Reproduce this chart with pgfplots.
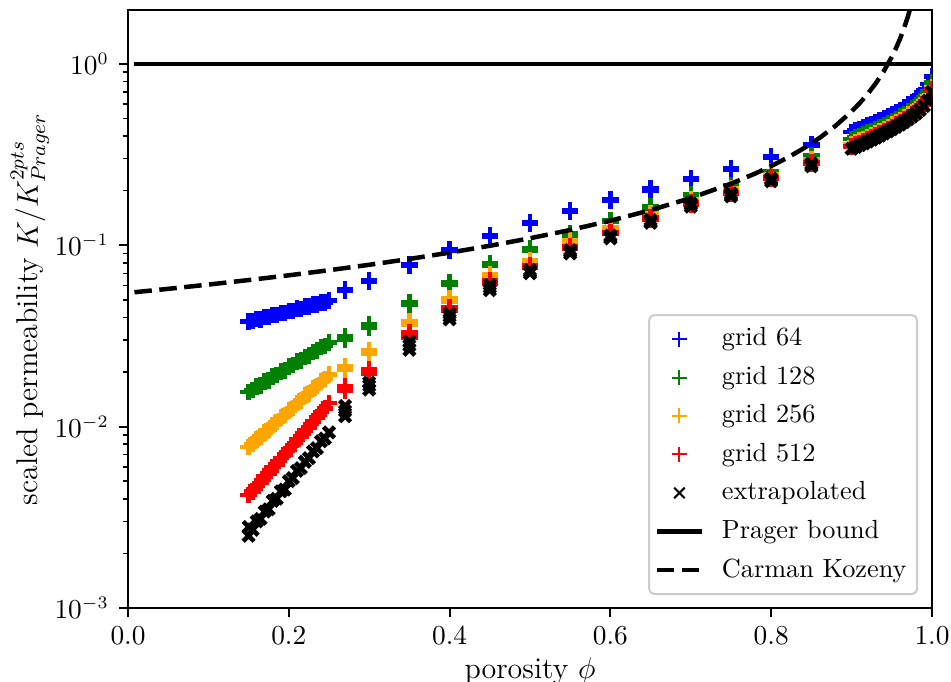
\documentclass[border=0pt]{standalone}
\usepackage{pgfplots}
\pgfplotsset{compat=1.18}
\definecolor{mplgreen}{rgb}{0,0.5,0}
\definecolor{mplorange}{rgb}{1,0.647,0}
\pgfplotsset{
  markleg/.style={legend image code/.code={\path[draw=none,fill=none] (0pt,0pt) -- (24pt,0pt);\draw[##1, line width=0.8pt, mark size=3pt] plot coordinates {(9pt,0pt)};}},
  lineleg/.style={legend image code/.code={\path[draw=none,fill=none] (0pt,0pt) -- (24pt,0pt);\draw[##1] (0pt,0pt) -- (18pt,0pt);}},
}
\begin{document}
\fontsize{12}{14.4}\selectfont
\begin{tikzpicture}
\begin{axis}[
  scale only axis, width=321.6pt, height=239.2pt,
  xmin=0, xmax=1, ymode=log, ymin=1e-3, ymax=1.98,
  xtick={0,0.2,0.4,0.6,0.8,1}, ytick={1e-3,1e-2,1e-1,1},
  xticklabel style={/pgf/number format/.cd, fixed, fixed zerofill, precision=1},
  tick label style={font=\fontsize{10.5}{12.6}\selectfont},
  label style={font=\fontsize{12}{14.4}\selectfont},
  tick align=outside, tick pos=left,
  major tick length=3.5pt, minor tick length=2pt,
  every major tick/.append style={line width=0.8pt, black},
  every minor tick/.append style={line width=0.6pt, black},
  axis line style={line width=0.8pt},
  xlabel={porosity $\phi$},
  xlabel style={yshift=3pt},
  ylabel={scaled permeability $K/K^{2pts}_{Prager}$},
  ylabel style={at={(axis description cs:-0.122,0.5)}, anchor=center},
  clip marker paths=true,
  legend cell align=left,
  legend style={at={(1,0)}, anchor=south east, xshift=-5.6pt, yshift=5.2pt,
    font=\fontsize{10.5}{12.6}\selectfont,
    draw=black!20, line width=0.8pt, rounded corners=2pt, fill=white, fill opacity=0.8, text opacity=1,
    row sep=2.3pt, inner xsep=2.2pt, inner ysep=3pt},
]
\coordinate (sw) at (rel axis cs:0,0);
\addplot[blue, only marks, mark=+, mark size=3.3pt, line width=1.8pt, markleg] table {
0.150 0.0380
0.155 0.0382
0.160 0.0391
0.165 0.0390
0.170 0.0401
0.175 0.0403
0.180 0.0412
0.185 0.0413
0.190 0.0424
0.195 0.0424
0.200 0.0435
0.205 0.0434
0.210 0.0447
0.215 0.0446
0.220 0.0459
0.225 0.0458
0.230 0.0471
0.235 0.0470
0.240 0.0484
0.245 0.0482
0.250 0.0495
0.270 0.0560
0.270 0.0572
0.300 0.0628
0.300 0.0645
0.350 0.0770
0.350 0.0786
0.400 0.0935
0.400 0.0950
0.450 0.112
0.450 0.114
0.500 0.131
0.500 0.134
0.550 0.153
0.550 0.156
0.600 0.176
0.600 0.180
0.650 0.200
0.650 0.205
0.700 0.229
0.700 0.233
0.750 0.262
0.750 0.267
0.800 0.304
0.800 0.309
0.850 0.354
0.850 0.360
0.900 0.420
0.905 0.428
0.910 0.438
0.915 0.446
0.920 0.456
0.925 0.465
0.930 0.476
0.935 0.487
0.940 0.500
0.945 0.514
0.950 0.528
0.955 0.542
0.960 0.558
0.965 0.575
0.970 0.595
0.975 0.617
0.980 0.642
0.985 0.675
0.990 0.715
0.995 0.775
1.000 0.850
};
\addlegendentry{grid 64}
\addplot[mplgreen, only marks, mark=+, mark size=3.3pt, line width=1.8pt, markleg] table {
0.150 0.0155
0.155 0.0159
0.160 0.0166
0.165 0.0169
0.170 0.0177
0.175 0.0180
0.180 0.0189
0.185 0.0192
0.190 0.0201
0.195 0.0204
0.200 0.0214
0.205 0.0218
0.210 0.0228
0.215 0.0232
0.220 0.0242
0.225 0.0247
0.230 0.0258
0.235 0.0262
0.240 0.0274
0.245 0.0279
0.250 0.0291
0.270 0.0303
0.270 0.0313
0.300 0.0352
0.300 0.0366
0.350 0.0470
0.350 0.0485
0.400 0.0605
0.400 0.0625
0.450 0.0775
0.450 0.0800
0.500 0.0935
0.500 0.0960
0.550 0.113
0.550 0.117
0.600 0.134
0.600 0.138
0.650 0.157
0.650 0.163
0.700 0.186
0.700 0.192
0.750 0.208
0.750 0.214
0.800 0.250
0.800 0.256
0.850 0.305
0.850 0.312
0.900 0.385
0.905 0.392
0.910 0.400
0.915 0.408
0.920 0.417
0.925 0.426
0.930 0.436
0.935 0.447
0.940 0.458
0.945 0.470
0.950 0.483
0.955 0.497
0.960 0.512
0.965 0.528
0.970 0.546
0.975 0.566
0.980 0.590
0.985 0.618
0.990 0.655
0.995 0.710
1.000 0.790
};
\addlegendentry{grid 128}
\addplot[mplorange, only marks, mark=+, mark size=3.3pt, line width=1.8pt, markleg] table {
0.150 0.0077
0.155 0.0080
0.160 0.0085
0.165 0.0088
0.170 0.0093
0.175 0.0096
0.180 0.0102
0.185 0.0106
0.190 0.0112
0.195 0.0116
0.200 0.0123
0.205 0.0127
0.210 0.0135
0.215 0.0139
0.220 0.0148
0.225 0.0152
0.230 0.0162
0.235 0.0167
0.240 0.0177
0.245 0.0183
0.250 0.0194
0.270 0.0205
0.270 0.0215
0.300 0.0252
0.300 0.0264
0.350 0.0365
0.350 0.0380
0.400 0.0490
0.400 0.0510
0.450 0.0660
0.450 0.0690
0.500 0.0800
0.500 0.0830
0.550 0.102
0.550 0.106
0.600 0.121
0.600 0.125
0.650 0.145
0.650 0.150
0.700 0.175
0.700 0.180
0.750 0.200
0.750 0.205
0.800 0.240
0.800 0.245
0.850 0.292
0.850 0.298
0.900 0.360
0.905 0.369
0.910 0.377
0.915 0.386
0.920 0.395
0.925 0.405
0.930 0.416
0.935 0.426
0.940 0.438
0.945 0.449
0.950 0.462
0.955 0.476
0.960 0.491
0.965 0.507
0.970 0.524
0.975 0.543
0.980 0.564
0.985 0.589
0.990 0.620
0.995 0.663
1.000 0.742
};
\addlegendentry{grid 256}
\addplot[red, only marks, mark=+, mark size=3.3pt, line width=1.8pt, markleg] table {
0.150 0.0042
0.155 0.0044
0.160 0.0047
0.165 0.0049
0.170 0.0053
0.175 0.0055
0.180 0.0060
0.185 0.0062
0.190 0.0067
0.195 0.0070
0.200 0.0075
0.205 0.0079
0.210 0.0085
0.215 0.0088
0.220 0.0095
0.225 0.0099
0.230 0.0107
0.235 0.0112
0.240 0.0120
0.245 0.0126
0.250 0.0135
0.270 0.0158
0.270 0.0167
0.300 0.0195
0.300 0.0206
0.350 0.0310
0.350 0.0330
0.400 0.0435
0.400 0.0455
0.450 0.0610
0.450 0.0640
0.500 0.0750
0.500 0.0780
0.550 0.096
0.550 0.099
0.600 0.115
0.600 0.118
0.650 0.139
0.650 0.143
0.700 0.168
0.700 0.173
0.750 0.192
0.750 0.197
0.800 0.232
0.800 0.237
0.850 0.281
0.850 0.287
0.900 0.350
0.905 0.358
0.910 0.367
0.915 0.375
0.920 0.384
0.925 0.393
0.930 0.404
0.935 0.414
0.940 0.425
0.945 0.437
0.950 0.449
0.955 0.462
0.960 0.477
0.965 0.492
0.970 0.509
0.975 0.527
0.980 0.548
0.985 0.573
0.990 0.603
0.995 0.644
1.000 0.721
};
\addlegendentry{grid 512}
\addplot[black, only marks, mark=x, mark size=3.1pt, line width=1.8pt, markleg] table {
0.150 0.0025
0.150 0.0028
0.155 0.0027
0.160 0.0030
0.165 0.0031
0.170 0.0034
0.175 0.0035
0.180 0.0039
0.185 0.0040
0.190 0.0044
0.195 0.0045
0.200 0.0050
0.205 0.0052
0.210 0.0057
0.215 0.0059
0.220 0.0064
0.225 0.0067
0.230 0.0073
0.235 0.0076
0.240 0.0083
0.245 0.0086
0.250 0.0093
0.270 0.0114
0.270 0.0122
0.270 0.0130
0.300 0.0160
0.300 0.0168
0.300 0.0175
0.350 0.0265
0.350 0.0280
0.350 0.0295
0.400 0.0390
0.400 0.0405
0.400 0.0420
0.450 0.0565
0.450 0.0585
0.450 0.0605
0.500 0.0700
0.500 0.0715
0.500 0.0730
0.550 0.090
0.550 0.092
0.550 0.094
0.600 0.109
0.600 0.111
0.600 0.113
0.650 0.133
0.650 0.135
0.650 0.138
0.700 0.163
0.700 0.167
0.700 0.170
0.750 0.186
0.750 0.189
0.750 0.193
0.800 0.225
0.800 0.229
0.800 0.233
0.850 0.272
0.850 0.277
0.850 0.282
0.900 0.340
0.905 0.348
0.910 0.356
0.915 0.364
0.920 0.373
0.925 0.382
0.930 0.392
0.935 0.402
0.940 0.413
0.945 0.424
0.950 0.436
0.955 0.449
0.960 0.463
0.965 0.478
0.970 0.494
0.975 0.512
0.980 0.532
0.985 0.556
0.990 0.585
0.995 0.625
1.000 0.700
};
\addlegendentry{extrapolated}
\addplot[black, line width=1.8pt, lineleg] coordinates {(0.008,1) (1,1)};
\addlegendentry{Prager bound}
\addplot[black, line width=1.8pt, dash pattern=on 7pt off 3pt, lineleg] coordinates {
(0.008,0.05504) (0.05,0.05747) (0.10,0.06067) (0.15,0.06424) (0.20,0.06825)
(0.25,0.07280) (0.30,0.07800) (0.35,0.08400) (0.40,0.09100) (0.45,0.09927)
(0.50,0.1092) (0.55,0.1213) (0.60,0.1365) (0.65,0.1560) (0.70,0.1820)
(0.75,0.2184) (0.78,0.2482) (0.80,0.2730) (0.82,0.3033) (0.84,0.3413) (0.86,0.3900)
(0.88,0.4550) (0.90,0.5460) (0.91,0.6067) (0.92,0.6825) (0.93,0.7800)
(0.94,0.9100) (0.95,1.092) (0.955,1.213) (0.96,1.365) (0.965,1.560)
(0.97,1.820) (0.975,2.184) (0.98,2.730)
};
\addlegendentry{Carman Kozeny}
\end{axis}
\pgfresetboundingbox
\path[use as bounding box] (sw) ++(-51.2pt,-29.6pt) rectangle ++(380.4pt,272.8pt);
\end{tikzpicture}
\end{document}
